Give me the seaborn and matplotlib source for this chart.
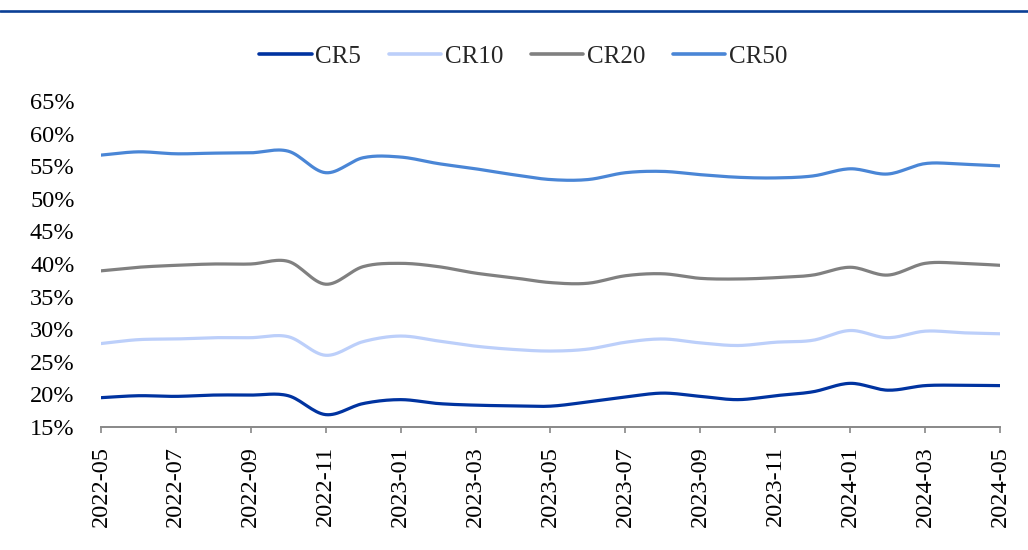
import numpy as np
import pandas as pd
import seaborn as sns
import matplotlib
matplotlib.use("Agg")
import matplotlib.pyplot as plt
from matplotlib.lines import Line2D
from matplotlib.ticker import FuncFormatter

# Monthly concentration ratios, 2022-05 .. 2024-05 (percent)
months = pd.period_range("2022-05", "2024-05", freq="M").strftime("%Y-%m").tolist()
cr5 = [19.5, 19.8, 19.7, 19.9, 19.9, 19.8, 16.9, 18.6, 19.2, 18.6, 18.35, 18.25, 18.2,
       18.85, 19.6, 20.2, 19.7, 19.2, 19.8, 20.4, 21.7, 20.65, 21.35, 21.4, 21.35]
cr10 = [27.8, 28.4, 28.5, 28.7, 28.7, 28.85, 26.0, 28.1, 28.95, 28.2, 27.4, 26.9, 26.65,
        26.95, 28.0, 28.5, 27.9, 27.5, 28.0, 28.3, 29.8, 28.7, 29.7, 29.45, 29.3]
cr20 = [38.95, 39.5, 39.8, 40.0, 40.0, 40.4, 36.9, 39.6, 40.1, 39.6, 38.6, 37.9, 37.15,
        37.05, 38.2, 38.5, 37.8, 37.7, 37.9, 38.3, 39.5, 38.3, 40.1, 40.1, 39.8]
cr50 = [56.7, 57.2, 56.9, 57.0, 57.05, 57.3, 54.0, 56.3, 56.4, 55.4, 54.6, 53.7, 52.95,
        52.95, 54.0, 54.2, 53.7, 53.3, 53.2, 53.5, 54.6, 53.8, 55.4, 55.3, 55.05]
series_names = ["CR5", "CR10", "CR20", "CR50"]
series_values = [cr5, cr10, cr20, cr50]
colors = ["#0033a0", "#bccffa", "#808080", "#4a86d6"]


def smooth(values, steps=16):
    """Catmull-Rom curve through the monthly points (smoothed line rendering)."""
    y = np.asarray(values, dtype=float)
    n = len(y)
    p = np.concatenate([[2 * y[0] - y[1]], y, [2 * y[-1] - y[-2]]])
    xs, ys = [], []
    for i in range(n - 1):
        p0, p1, p2, p3 = p[i], p[i + 1], p[i + 2], p[i + 3]
        t = np.linspace(0, 1, steps, endpoint=False)
        seg = 0.5 * ((2 * p1) + (-p0 + p2) * t + (2 * p0 - 5 * p1 + 4 * p2 - p3) * t ** 2
                     + (-p0 + 3 * p1 - 3 * p2 + p3) * t ** 3)
        xs.append(i + t)
        ys.append(seg)
    xs.append([n - 1])
    ys.append([y[-1]])
    return np.concatenate(xs), np.concatenate(ys)


frames = []
for name, vals in zip(series_names, series_values):
    sx, sy = smooth(vals)
    frames.append(pd.DataFrame({"x": sx, "value": sy, "series": name}))
df = pd.concat(frames, ignore_index=True)

sns.set_theme(style="white")
plt.rcParams["font.family"] = "serif"
plt.rcParams["font.serif"] = ["Liberation Serif", "DejaVu Serif"]

fig = plt.figure(figsize=(10.28, 5.5), dpi=100)
ax = fig.add_axes([0.0982, 0.2236, 0.8746, 0.5928])

sns.lineplot(data=df, x="x", y="value", hue="series", hue_order=series_names,
             palette=colors, linewidth=2.3, sort=False, estimator=None,
             legend=False, ax=ax)

ax.set_xlim(0, len(months) - 1)
ax.set_ylim(15, 65)
ax.set_yticks(np.arange(15, 66, 5))
ax.yaxis.set_major_formatter(FuncFormatter(lambda v, _: f"{v:.0f}%"))
tick_idx = list(range(0, len(months), 2))
ax.set_xticks(tick_idx)
ax.set_xticklabels([months[i] for i in tick_idx], rotation=90)
ax.set_xlabel("")
ax.set_ylabel("")

for side in ["top", "right", "left"]:
    ax.spines[side].set_visible(False)
ax.spines["bottom"].set_color("#888888")
ax.spines["bottom"].set_linewidth(1.4)

ax.tick_params(axis="x", direction="out", length=4.5, width=1.2, color="#888888",
               pad=9, labelsize=17.5, labelcolor="black", bottom=True)
ax.tick_params(axis="y", length=0, pad=19, labelsize=17.5, labelcolor="black")

handles = [Line2D([0], [0], color=c, lw=2.6) for c in colors]
fig.legend(handles, series_names, loc="center", bbox_to_anchor=(0.509, 0.897), ncol=4,
           frameon=False, fontsize=18, handlelength=2.1, handletextpad=0.15,
           columnspacing=1.1)

# Header rule across the top of the figure
fig.add_artist(Line2D([0, 1], [1 - 10.5 / 550, 1 - 10.5 / 550], transform=fig.transFigure,
                      color="#0b3f96", lw=1.9))

fig.savefig("out.png", dpi=100)
